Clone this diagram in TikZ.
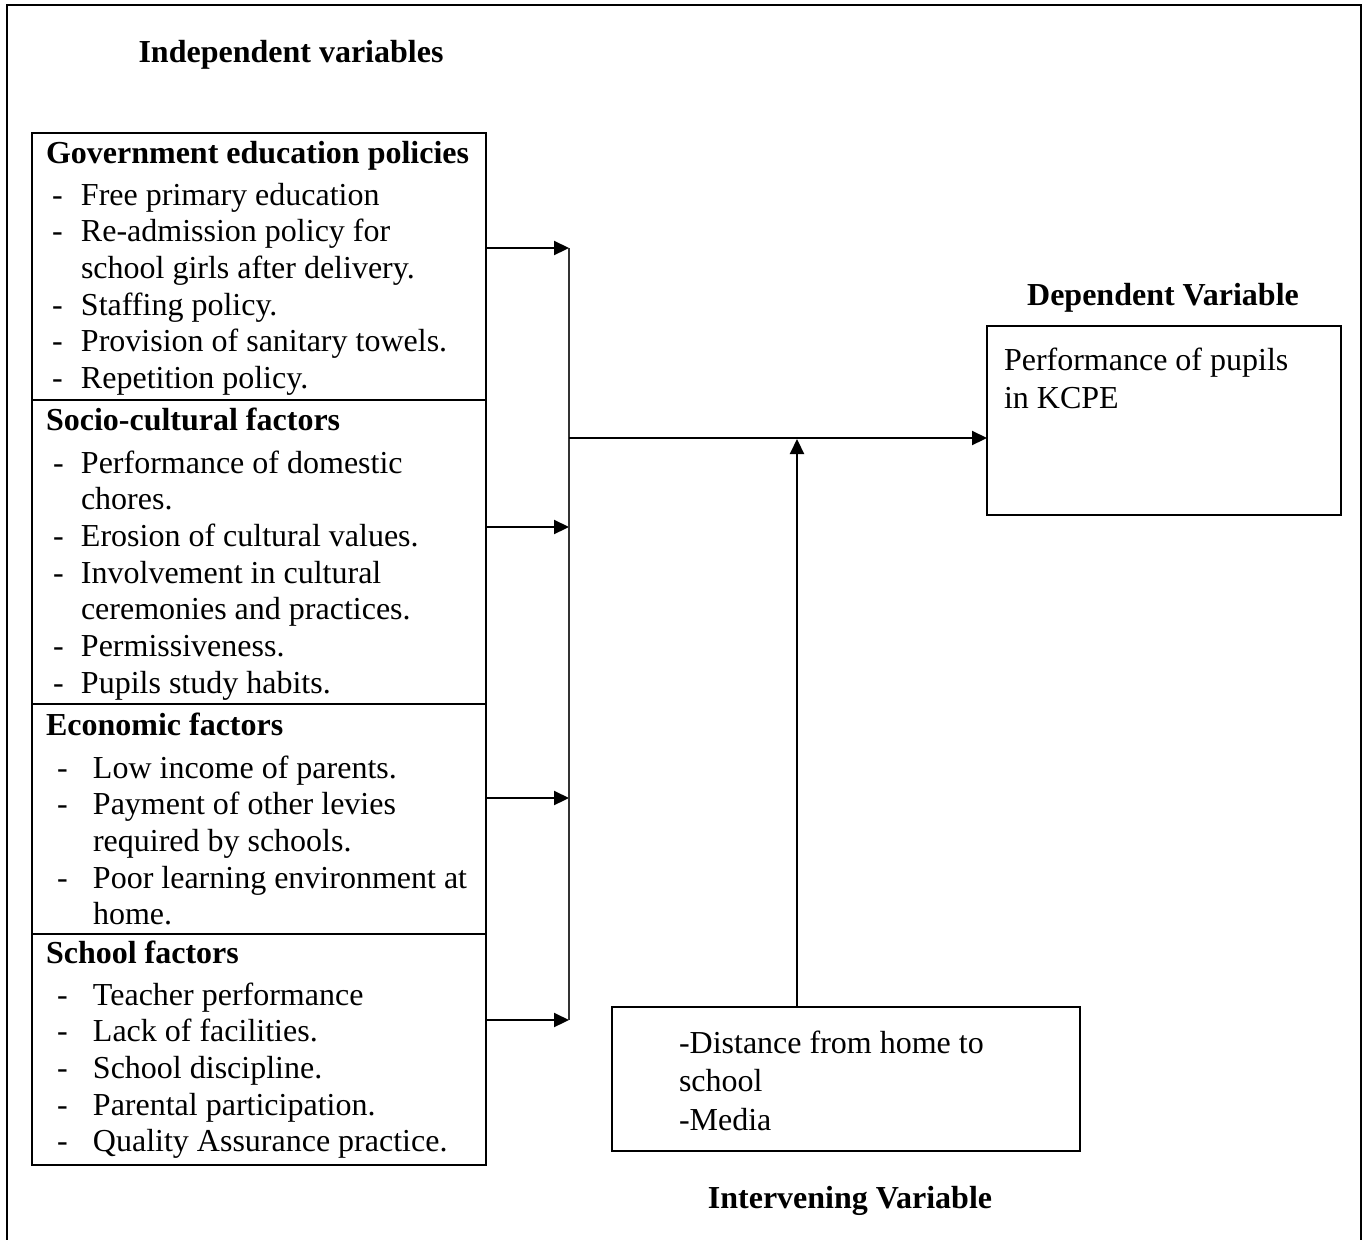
\documentclass[tikz,border=0pt]{standalone}
\usepackage{fontspec}
\setmainfont{Liberation Serif}
\usepackage{array}
\usetikzlibrary{arrows.meta,positioning}

\begin{document}
\begin{tikzpicture}
    [x=1pt, y=-1pt,
    every node/.style={inner sep=0pt, outer sep=0pt},
    factorbox/.style={draw, line width=2.2pt, minimum width=454pt, anchor=north west},
    varbox/.style={draw, line width=2.2pt, anchor=north west},
    heading/.style={font=\fontsize{32}{37}\selectfont\bfseries, anchor=base},
    facttitle/.style={font=\fontsize{32}{37}\selectfont\bfseries, anchor=base west},
    factitems/.style={font=\fontsize{32}{36.7}\selectfont, anchor=base west},
    ->-/.style={line width=2.2pt, -{Triangle[length=15pt, width=14pt]}}]
        \useasboundingbox (0,0) rectangle (1366,1240);
        %% outer frame
        \draw[line width=2.6pt] (7,5) rectangle (1361,1262);

        %% Independent variables
        \node[heading] (indep) at (291,62) {Independent variables};
        \node[factorbox, minimum height=267pt] (gov) at (32,133) {};
        \node[factorbox, minimum height=304pt] (socio) at (32,400) {};
        \node[factorbox, minimum height=230pt] (econ) at (32,704) {};
        \node[factorbox, minimum height=231pt] (school) at (32,934) {};

        \node[facttitle] (govtitle) at (46,163) {Government education policies};
        \node[factitems] (govlist) at (52,205) {\begin{tabular}[t]{@{}p{29pt}@{}l@{}}
            - & Free primary education\\
            - & Re-admission policy for\\
              & school girls after delivery.\\
            - & Staffing policy.\\
            - & Provision of sanitary towels.\\
            - & Repetition policy.
        \end{tabular}};

        \node[facttitle] (sociotitle) at (46,430) {Socio-cultural factors};
        \node[factitems] (sociolist) at (53,473) {\begin{tabular}[t]{@{}p{28pt}@{}l@{}}
            - & Performance of domestic\\
              & chores.\\
            - & Erosion of cultural values.\\
            - & Involvement in cultural\\
              & ceremonies and practices.\\
            - & Permissiveness.\\
            - & Pupils study habits.
        \end{tabular}};

        \node[facttitle] (econtitle) at (46,735) {Economic factors};
        \node[factitems] (econlist) at (57,778) {\begin{tabular}[t]{@{}p{36pt}@{}l@{}}
            - & Low income of parents.\\
            - & Payment of other levies\\
              & required by schools.\\
            - & Poor learning environment at\\
              & home.
        \end{tabular}};

        \node[facttitle] (schooltitle) at (46,963) {School factors};
        \node[factitems] (schoollist) at (57,1005) {\begin{tabular}[t]{@{}p{36pt}@{}l@{}}
            - & Teacher performance\\
            - & Lack of facilities.\\
            - & School discipline.\\
            - & Parental participation.\\
            - & Quality Assurance practice.
        \end{tabular}};

        %% Dependent variable
        \node[heading] (deptitle) at (1163,305) {Dependent Variable};
        \node[varbox, minimum width=354pt, minimum height=189pt] (dep) at (987,326) {};
        \node[factitems, font=\fontsize{32}{38}\selectfont] (deptext) at (1004,370) {\begin{tabular}[t]{@{}l@{}}
            Performance of pupils\\
            in KCPE
        \end{tabular}};

        %% Intervening variable
        \node[varbox, minimum width=468pt, minimum height=144pt] (inter) at (612,1007) {};
        \node[factitems, font=\fontsize{32}{38.5}\selectfont] (intertext) at (679,1053) {\begin{tabular}[t]{@{}l@{}}
            -Distance from home to\\
            school\\
            -Media
        \end{tabular}};
        \node[heading] (intertitle) at (850,1208) {Intervening Variable};

        %% connectors
        \coordinate (j1) at (569,248);
        \coordinate (j2) at (569,527);
        \coordinate (j3) at (569,798);
        \coordinate (j4) at (569,1020);
        \coordinate (jm) at (569,438);
        \coordinate (ju) at (797,439);

        \draw[->-] (gov.east |- j1) -- (j1);
        \draw[->-] (socio.east |- j2) -- (j2);
        \draw[->-] (econ.east |- j3) -- (j3);
        \draw[->-] (school.east |- j4) -- (j4);
        \draw[line width=1.5pt, black!80] (j1) -- (j4);
        \draw[->-] (jm) -- (dep.west |- jm);
        \draw[->-] (inter.north -| ju) -- (ju);
    \end{tikzpicture}
\end{document}
